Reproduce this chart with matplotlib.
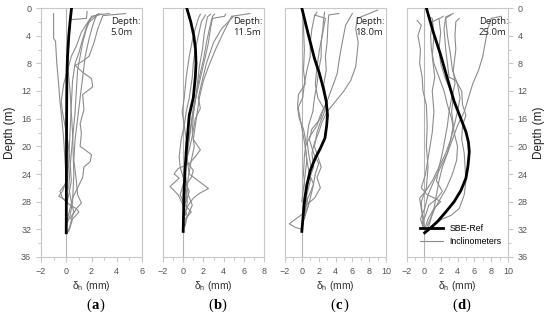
import matplotlib.pyplot as plt
from matplotlib.ticker import MultipleLocator

# depths in m, displacements in mm
sbe_a_x = [0.42, 0.3, 0.2, 0.1, 0.05, 0.03, 0.02, 0.01, 0.0]
sbe_a_d = [0, 2, 4, 7, 10, 15, 20, 26, 32.5]

sbe_b_x = [0.35, 0.75, 1.05, 1.22, 1.27, 1.2, 1.0, 0.6, 0.35, 0.2, 0.08, 0.0]
sbe_b_d = [0, 2, 4, 6, 8, 10, 13, 15.5, 19.8, 23, 26.5, 32.3]

sbe_c_x = [0.0, 0.7, 1.5, 2.1, 2.55, 2.9, 3.05, 2.95, 2.75, 2.2, 1.6, 1.0, 0.6, 0.35, 0.2, 0.0]
sbe_c_d = [0, 3.5, 7.3, 9.5, 11.6, 13.5, 15.5, 17, 18.8, 20.3, 21.7, 23.5, 25.6, 27.5, 29.4, 32.3]

sbe_d_x = [0.3, 1.1, 2.0, 2.8, 3.6, 4.4, 5.0, 5.3, 5.4, 5.25, 5.0, 4.4, 3.6, 2.6, 1.6, 0.8, 0.1]
sbe_d_d = [0, 3.4, 6.8, 10.2, 13.5, 16, 17.9, 19.4, 20.8, 22.8, 24.6, 26.4, 28, 29.5, 30.9, 31.8, 32.5]

inc_a = [
    [(-1.0, 0.8), (-1.0, 4.4), (-0.85, 4.8), (-0.75, 8), (-0.6, 11), (-0.5, 13.5), (-0.35, 16), (-0.2, 19), (-0.1, 22), (0, 25), (-0.3, 26.5), (-0.6, 27.2), (-0.2, 27.6), (0, 28)],
    [(1.65, 0.5), (1.6, 1.5), (0.3, 1.7), (0.25, 4), (0.1, 8), (0.3, 12), (0.5, 18), (0.6, 24), (0.5, 28), (0.3, 30), (0.1, 31)],
    [(4.7, 0.8), (2.9, 1.1), (2.5, 3), (2.2, 5), (1.8, 7), (1.2, 7.8), (0.7, 8.3), (1.3, 9.3), (2.0, 10.2), (2.1, 11.4), (1.3, 12.5), (1.4, 14.7), (1.1, 16.7), (1.2, 18.1), (1.1, 20), (2.0, 21.2), (1.9, 22.2), (1.4, 23), (1.3, 24.5), (0.5, 27.5), (0.1, 30.5), (0, 31)],
    [(3.4, 0.8), (2.4, 1), (2.1, 2.5), (1.8, 4.5), (1.5, 7), (1.3, 10), (1.1, 13), (0.9, 16), (0.7, 19), (0.6, 22), (0.8, 25), (0.9, 27), (1.2, 28.2), (0.8, 29), (0.5, 30), (0.3, 31.5), (0.1, 32.5)],
    [(2.8, 0.9), (2.0, 1.2), (1.6, 3), (1.3, 5), (1.1, 7), (0.9, 9), (0.8, 12), (0.7, 15), (0.5, 19), (0.3, 23), (0.2, 26), (0.4, 28), (0.6, 29.5), (0.3, 30.5)],
    [(2.6, 0.8), (1.9, 1.5), (1.2, 3.5), (0.8, 5.5), (0.4, 7), (0.1, 9), (-0.2, 11), (-0.4, 13.5), (-0.3, 15), (-0.1, 17), (0.1, 19), (0.3, 22), (0.4, 25), (0.2, 27), (0, 28.5)],
    [(2.5, 1.0), (1.7, 2.2), (1.3, 4.5), (1.0, 6.5), (0.7, 8), (0.5, 10.5), (0.4, 14), (0.3, 18), (0.2, 22), (0.1, 25), (-0.5, 26.5), (-0.3, 27.5), (0.3, 28.5), (0.8, 29), (1.0, 29.5), (0.5, 30.5), (0.2, 32.3)],
]

inc_b = [
    [(6.6, 0.8), (4.8, 1.2), (4.0, 3.5), (3.2, 6), (2.5, 8.5), (2.0, 10.5), (1.6, 13), (1.4, 15), (1.2, 17), (1.0, 19), (1.7, 20.5), (1.2, 21.5), (0.6, 22.5), (-0.5, 23.2), (-0.9, 24), (-0.4, 24.6), (-1.3, 25.8), (-0.5, 27), (0, 28.5), (0.4, 30), (0.2, 31.5)],
    [(4.2, 0.9), (4.1, 1.2), (2.9, 1.5), (2.7, 3), (2.5, 5), (2.2, 7), (1.8, 9.5), (1.4, 12), (1.1, 14), (0.9, 16), (0.7, 18), (0.5, 20), (0.4, 22), (0.6, 24), (2.5, 26.1), (1.6, 26.8), (1.0, 27.5), (0.5, 28.5), (0.1, 29.8)],
    [(3.1, 0.9), (2.9, 1.2), (2.6, 3), (2.3, 5), (2.0, 7.5), (1.6, 10), (1.3, 12.5), (1.0, 14.5), (0.8, 16.5), (0.6, 18.5), (0.3, 21), (0.2, 24), (0.5, 27), (0.9, 28.5), (0.3, 30.5), (0, 32)],
    [(2.7, 0.9), (2.4, 1.3), (2.1, 3.5), (1.9, 6), (1.6, 8.5), (1.4, 11), (1.2, 13.5), (1.0, 15.5), (0.9, 18), (1.1, 20), (0.8, 22), (0.5, 24.5), (0.3, 27), (0.1, 29.5), (0.0, 31)],
    [(1.7, 0.9), (1.5, 1.5), (1.0, 4), (0.6, 7), (0.3, 10), (0.1, 13), (-0.1, 15), (0.1, 17), (0.3, 19), (0.2, 21), (0.5, 22.5), (1.0, 23.5), (0.8, 24.5), (0.3, 25.5), (0.6, 26.5), (0.3, 28), (0.0, 28.5)],
    [(2.2, 1.0), (1.8, 2), (1.5, 4), (1.2, 6), (1.0, 8), (0.9, 10), (0.6, 13), (0.3, 15), (0.1, 17), (-0.2, 19), (-0.4, 21.5), (-0.3, 23), (0.0, 24.5), (0.2, 26), (0.4, 28), (0.2, 30)],
    [(5.0, 1.2), (3.8, 3), (3.0, 5), (2.3, 8), (1.8, 11), (1.5, 13), (1.7, 14.5), (1.2, 16), (0.9, 18.5), (0.6, 20.5), (0.2, 22.5), (0.1, 25), (-0.3, 27), (0.2, 28.5), (0.8, 29.5), (0.2, 30.5)],
]

inc_c = [
    [(9.0, 0.3), (6.6, 1.5), (6.4, 3), (6.7, 5), (6.4, 8.5), (5.8, 10.5), (5.0, 12), (4.0, 13.5), (3.0, 15), (2.4, 16.5), (2.0, 18), (1.5, 19.5), (1.2, 21), (1.4, 23), (0.8, 25), (0.5, 27), (0.8, 28.5), (0.3, 30)],
    [(4.4, 0.8), (3.2, 1.0), (3.1, 2.5), (3.0, 5), (2.8, 7), (2.9, 9), (2.6, 11), (2.9, 13), (2.7, 15), (2.2, 16.5), (1.8, 18), (1.5, 20), (1.9, 21.5), (2.3, 23), (1.8, 24.5), (2.2, 26), (1.5, 27.5), (0.5, 28.5), (0.3, 30)],
    [(2.7, 0.6), (2.6, 1.5), (2.5, 3), (2.3, 5), (2.3, 7), (2.0, 9), (1.8, 11), (1.5, 13), (1.3, 15), (0.8, 17), (0.6, 19), (0.8, 21), (1.1, 23), (1.0, 25), (0.6, 27), (0.2, 29), (0.1, 31)],
    [(1.8, 0.6), (1.5, 1.2), (1.2, 3), (1.0, 5), (1.0, 7), (0.6, 9), (0.3, 11), (0.1, 13), (-0.5, 14.5), (-0.3, 16), (0.2, 17.5), (0.5, 19.5), (0.3, 21.5), (0.2, 24), (0.4, 26), (0.6, 28), (0.4, 29.5), (-1.5, 31.2), (-0.8, 31.7), (0.0, 32)],
    [(0.3, 1.0), (0.2, 3), (0.3, 6), (0.2, 9), (0.4, 11), (-0.4, 12.5), (-0.5, 14), (-0.2, 16), (0.1, 18), (0.4, 20), (0.6, 22), (0.4, 24), (0.2, 26), (0.0, 28)],
    [(1.5, 1.0), (2.8, 1.5), (2.5, 3.5), (2.1, 6), (1.8, 8.5), (1.6, 11), (1.9, 13), (2.6, 14.5), (2.2, 16), (1.2, 17.5), (0.9, 19), (1.4, 21), (2.0, 22.5), (1.6, 24), (1.3, 26), (0.9, 28), (0.3, 30.5)],
    [(6.0, 0.8), (5.2, 2.5), (4.8, 5), (4.5, 7), (4.2, 9.5), (3.6, 11.5), (3.0, 13.5), (2.2, 15.5), (1.8, 17), (1.0, 18.5), (0.4, 20), (0.6, 22), (0.9, 24), (1.4, 25.5), (0.9, 27), (0.3, 28.5)],
]

inc_d = [
    [(-0.8, 1.8), (-0.3, 2.5), (-0.7, 4), (-0.4, 6), (-0.5, 8), (-0.2, 10), (-0.1, 12), (0.3, 14), (0.4, 17), (0.3, 20), (0.5, 23), (0.3, 26), (-0.3, 28), (-0.2, 30), (0.1, 32)],
    [(0.5, 1.2), (1.0, 1.5), (1.2, 4), (1.0, 7), (1.3, 10), (1.0, 12), (1.2, 15), (1.0, 18), (0.6, 21), (0.2, 24), (-0.3, 26), (0.4, 27), (1.3, 27.5), (2.0, 28), (1.2, 29), (0.5, 30.5), (0.1, 32)],
    [(2.3, 1.2), (1.8, 1.6), (2.0, 3.5), (1.8, 6), (2.0, 8), (2.5, 10), (3.0, 11.5), (3.5, 13), (3.3, 15), (3.5, 17), (3.2, 19), (2.8, 21), (2.2, 23), (1.8, 25), (1.5, 27), (1.2, 29), (0.4, 32.3)],
    [(3.5, 0.8), (2.6, 1.3), (2.4, 3), (2.6, 6), (2.8, 8), (3.0, 10), (3.8, 10.5), (4.5, 12), (4.6, 14), (5.0, 15.5), (4.6, 17), (4.5, 19), (4.8, 21), (4.9, 23), (5.0, 25), (4.8, 27), (4.2, 29), (3.2, 30), (2.2, 30.5), (1.0, 31.5), (0.3, 32.3)],
    [(4.2, 1.5), (3.8, 2), (3.7, 4), (3.8, 6), (3.5, 9), (3.7, 11), (3.3, 13), (3.0, 15), (2.8, 17), (2.5, 19), (2.2, 21), (1.8, 23), (1.5, 25), (2.2, 26.5), (1.6, 27.5), (0.6, 28.5), (0.2, 30), (-0.2, 31), (0.1, 32)],
    [(9.2, 1.2), (8.0, 1.5), (7.6, 3), (7.3, 5), (7.0, 7), (6.5, 9), (5.8, 11), (5.3, 13), (4.8, 15), (4.0, 17), (3.4, 19), (2.8, 21), (2.0, 23), (1.2, 25), (0.5, 27), (0.1, 29), (-0.4, 30.5), (0.0, 32)],
    [(1.8, 1.5), (1.0, 2), (0.8, 4), (0.9, 6), (1.2, 8), (1.8, 10), (2.4, 12), (2.8, 14), (3.3, 16), (3.6, 18), (4.0, 20), (3.9, 22), (3.4, 24), (2.7, 26), (2.0, 27.5), (1.3, 29), (0.4, 31.5)],
    [(3.2, 1.0), (2.6, 1.5), (2.8, 4), (3.2, 7), (3.4, 9), (4.0, 11), (4.3, 13), (4.0, 15), (3.6, 17), (3.2, 19), (2.6, 21), (1.8, 23), (1.0, 25), (0.2, 26.5), (-0.5, 27.5), (-0.3, 29), (0.0, 30.5)],
]

depth_labels = ['Depth:\n5.0m', 'Depth:\n11.5m', 'Depth:\n18.0m', 'Depth:\n25.0m']
panel_labels = ['a', 'b', 'c', 'd']
xmax = [6, 8, 10, 10]
lefts = [41, 163, 285, 407]
label_x = [0.69, 0.69, 0.69, 0.71]

sbe = [(sbe_a_x, sbe_a_d), (sbe_b_x, sbe_b_d), (sbe_c_x, sbe_c_d), (sbe_d_x, sbe_d_d)]
incs = [inc_a, inc_b, inc_c, inc_d]

W, H = 550, 322
fig = plt.figure(figsize=(W / 100, H / 100), dpi=100)
plt.rcParams['font.family'] = ['Liberation Sans', 'DejaVu Sans']
plt.rcParams['mathtext.fontset'] = 'custom'
plt.rcParams['mathtext.rm'] = 'Liberation Sans'

spine_col = '#c8c8c8'
tick_col = '#555555'

for i in range(4):
    ax = fig.add_axes([lefts[i] / W, 1 - 257 / H, 101 / W, 249 / H])
    ax.axvline(0, color='#b4b4b4', lw=0.8, zorder=1)
    for k, ln in enumerate(incs[i]):
        xs = [p[0] for p in ln]
        ds = [p[1] for p in ln]
        ax.plot(xs, ds, color='#8c8c8c', lw=0.8, zorder=2,
                label='Inclinometers' if k == 0 else None)
    ax.plot(sbe[i][0], sbe[i][1], color='black', lw=2.0, zorder=3, label='SBE-Ref')
    ax.set_xlim(-2, xmax[i])
    ax.set_ylim(36, 0)
    ax.xaxis.set_major_locator(MultipleLocator(2))
    ax.xaxis.set_minor_locator(MultipleLocator(1))
    ax.yaxis.set_major_locator(MultipleLocator(4))
    ax.yaxis.set_minor_locator(MultipleLocator(2))
    for s in ax.spines.values():
        s.set_color(spine_col)
        s.set_linewidth(0.8)
    ax.tick_params(which='both', direction='out', color=spine_col, labelcolor=tick_col,
                   labelsize=6.5, width=0.8)
    ax.tick_params(which='major', length=3.5)
    ax.tick_params(which='minor', length=2.5)
    if i == 0:
        ax.set_ylabel('Depth (m)', fontsize=8.5, color='#222222', labelpad=4)
    elif i == 3:
        ax.yaxis.tick_right()
        ax.yaxis.set_label_position('right')
        ax.set_ylabel('Depth (m)', fontsize=8.5, color='#222222', labelpad=4)
    else:
        ax.tick_params(axis='y', which='both', left=False, labelleft=False)
    ax.set_xlabel(r'δ$_\mathrm{h}$ (mm)', fontsize=7.5, color='#333333', labelpad=2.5)
    ax.text(label_x[i], 0.965, depth_labels[i], transform=ax.transAxes, ha='left', va='top',
            fontsize=6.8, family=['Open Sans', 'DejaVu Sans'], color='#222222', linespacing=1.3)
    ax.text(0.5, -0.195, '(', transform=ax.transAxes, ha='right', va='center',
            fontsize=10.5, family='Liberation Serif')
    ax.text(0.5, -0.195, panel_labels[i], transform=ax.transAxes, ha='left', va='center',
            fontsize=10.5, family='Liberation Serif', fontweight='bold')
    ax.text(0.5 + 0.08, -0.195, ')', transform=ax.transAxes, ha='left', va='center',
            fontsize=10.5, family='Liberation Serif')
    if i == 3:
        h, l = ax.get_legend_handles_labels()
        ax.legend(h[::-1], l[::-1], loc='lower right', frameon=False, fontsize=6.3,
                  handlelength=2.6, borderaxespad=0.3, labelspacing=0.4,
                  bbox_to_anchor=(1.0, 0.02))

fig.savefig('out.png', dpi=100)
